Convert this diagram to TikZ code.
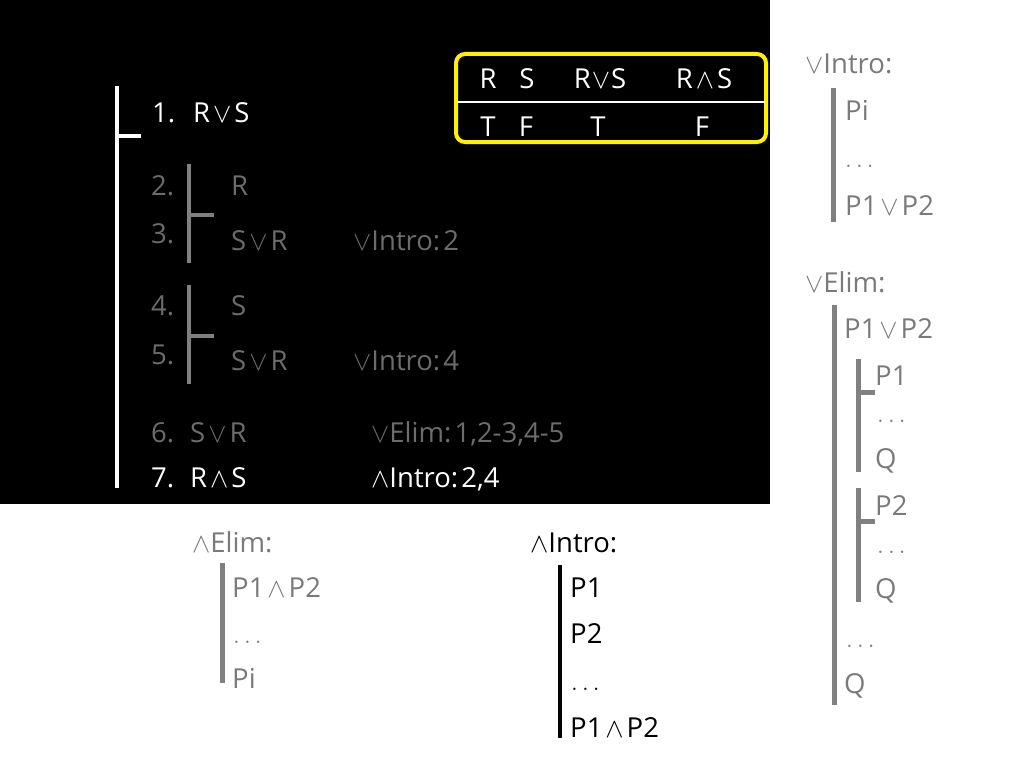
\documentclass[tikz,border=0pt]{standalone}
\usepackage{fontspec}
\setmainfont{Open Sans}
\definecolor{dgray}{RGB}{108,108,108}
\definecolor{lgray}{RGB}{122,122,122}
\definecolor{bargray}{RGB}{128,128,128}
\definecolor{ybox}{RGB}{255,240,0}
\newcommand\vo{\scalebox{1.1}{$\vee$}}
\newcommand\wa{\scalebox{1.1}{$\wedge$}}
\newcommand\myor{\kern3pt\vo\kern3pt}
\newcommand\myand{\kern3pt\wa\kern3pt}
\newcommand\mydots{$\ldots$}
\begin{document}
\begin{tikzpicture}[x=1pt,y=-1pt,
  t/.style={anchor=base west, inner sep=0pt, font=\fontsize{27.5}{32}\selectfont},
  tc/.style={anchor=base, inner sep=0pt, font=\fontsize{27.5}{32}\selectfont},
  bar/.style={line width=4pt, line cap=butt},
  wbar/.style={bar, white},
  gbar/.style={bar, bargray},
  kbar/.style={bar, black, line width=4.5pt},
  rbar/.style={bar, bargray, line width=5pt}]
\useasboundingbox (0,0) rectangle (1024,768);
\fill[white] (0,0) rectangle (1024,768);
\fill[black] (0,0) rectangle (770,504);

% main proof
\draw[wbar] (117,86) -- (117,488);
\draw[wbar] (117,136) -- (141,136);
\node[t, white] (n1) at (152,122) {1.};
\node[t, white] (f1) at (193,122) {R\myor S};

\draw[gbar] (189,164) -- (189,263);
\draw[gbar] (189,215) -- (214,215);
\node[t, dgray] (n2) at (151,195) {2.};
\node[t, dgray] (f2) at (231,195) {R};
\node[t, dgray] (n3) at (151,243) {3.};
\node[t, dgray] (f3) at (231,250) {S\myor R};
\node[t, dgray] (j3) at (353,250) {\vo Intro:\kern3pt 2};

\draw[gbar] (189,285) -- (189,384);
\draw[gbar] (189,336) -- (214,336);
\node[t, dgray] (n4) at (151,315) {4.};
\node[t, dgray] (f4) at (231,315) {S};
\node[t, dgray] (n5) at (151,364) {5.};
\node[t, dgray] (f5) at (231,370) {S\myor R};
\node[t, dgray] (j5) at (353,370) {\vo Intro:\kern3pt 4};

\node[t, dgray] (n6) at (151,442) {6.};
\node[t, dgray] (f6) at (190,442) {S\myor R};
\node[t, dgray] (j6) at (371,442) {\vo Elim:\kern3pt 1,2-3,4-5};

\node[t, white] (n7) at (151,487) {7.};
\node[t, white] (f7) at (190,487) {R\myand S};
\node[t, white] (j7) at (371,487) {\wa Intro:\kern3pt 2,4};

% truth table
\draw[ybox, line width=4pt, rounded corners=9pt] (456,54) rectangle (766,142);
\draw[white, line width=2pt] (457,102) -- (765,102);
\node[tc, white] (hR) at (488,88) {R};
\node[tc, white] (hS) at (527,88) {S};
\node[tc, white] (hRoS) at (600,88) {R\kern1pt\vo\kern1pt S};
\node[tc, white] (hRaS) at (704,88) {R\kern3pt\wa\kern3pt S};
\node[tc, white] (vR) at (488,136) {T};
\node[tc, white] (vS) at (526,136) {F};
\node[tc, white] (vRoS) at (598,136) {T};
\node[tc, white] (vRaS) at (702,136) {F};

% or-intro rule
\node[t, lgray] (oi) at (805,73) {\vo Intro:};
\draw[rbar] (833,88) -- (833,222);
\node[t, lgray] (oi1) at (845,120) {Pi};
\node[t, lgray] (oi2) at (845,167) {\mydots};
\node[t, lgray] (oi3) at (845,215) {P1\myor P2};

% or-elim rule
\node[t, lgray] (oe) at (805,292) {\vo Elim:};
\draw[rbar] (834,305) -- (834,705);
\node[t, lgray] (oe1) at (844,338) {P1\myor P2};
\draw[rbar] (858,359) -- (858,472);
\draw[rbar] (858,392) -- (875,392);
\node[t, lgray] (oe2) at (875,385) {P1};
\node[t, lgray] (oe3) at (877,422) {\mydots};
\node[t, lgray] (oe4) at (875,468) {Q};
\draw[rbar] (858,488) -- (858,602);
\draw[rbar] (858,521) -- (875,521);
\node[t, lgray] (oe5) at (875,515) {P2};
\node[t, lgray] (oe6) at (877,553) {\mydots};
\node[t, lgray] (oe7) at (875,598) {Q};
\node[t, lgray] (oe8) at (846,647) {\mydots};
\node[t, lgray] (oe9) at (844,693) {Q};

% and-elim rule
\node[t, lgray] (ae) at (192,552) {\wa Elim:};
\draw[rbar] (222,563) -- (222,683);
\node[t, lgray] (ae1) at (232,597) {P1\myand P2};
\node[t, lgray] (ae2) at (233,643) {\mydots};
\node[t, lgray] (ae3) at (232,688) {Pi};

% and-intro rule
\node[t, black] (ai) at (530,552) {\wa Intro:};
\draw[kbar] (560,565) -- (560,738);
\node[t, black] (ai1) at (570,597) {P1};
\node[t, black] (ai2) at (570,643) {P2};
\node[t, black] (ai3) at (571,690) {\mydots};
\node[t, black] (ai4) at (570,737) {P1\myand P2};
\end{tikzpicture}
\end{document}
